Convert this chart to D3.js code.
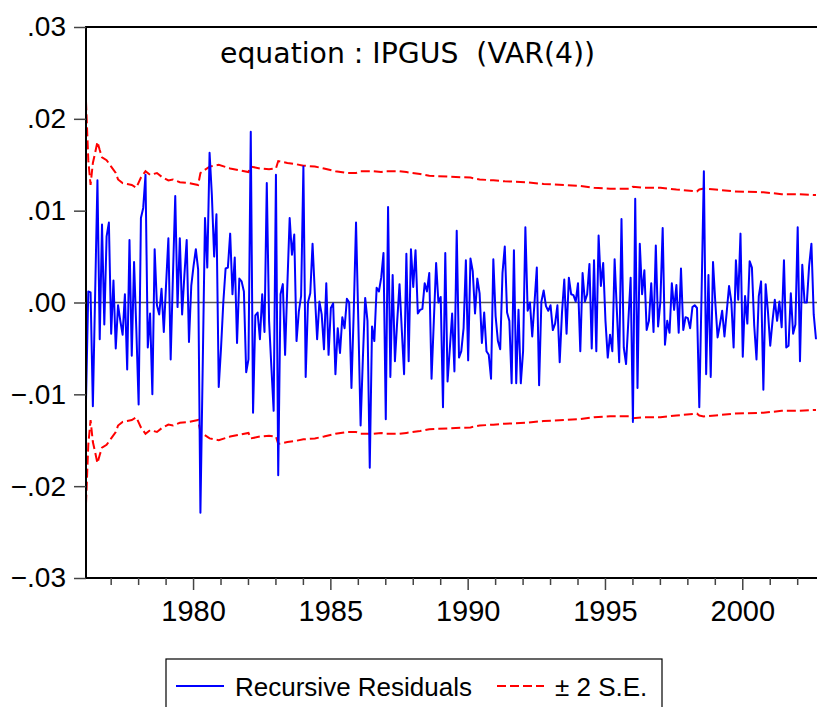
<!DOCTYPE html>
<html>
<head>
<meta charset="utf-8">
<script src="https://cdnjs.cloudflare.com/ajax/libs/d3/7.8.5/d3.min.js"></script>
<style>
    body { margin: 0; background: #fff; }
    svg { display: block; }
    .tick-label { font-family: "Liberation Sans", Arial, sans-serif; fill: #000; }
</style>
</head>
<body>
<svg id="chart" width="817" height="707"></svg>
<script>
//first observation of the sample
var startYear = 1976;
var startMonth = 2;

//recursive residuals, one row per calendar year (1976 starts in February)
var residuals = [
    -.0107, .0012, .0011, -.0113, .0010, .0133, -.0040, .0085, -.0024, .0072, .0087,
    -.0034, .0024, -.0050, -.0003, -.0020, -.0035, .0009, -.0073, .0068, -.0058, .0044, -.0030,
    -.0111, .0092, .0103, .0139, -.0049, -.0012, -.0100, .0058, -.0003, -.0013, .0015, -.0032,
    .0020, .0070, -.0062, .0030, .0116, -.0005, .0070, -.0013, .0030, .0068, -.0043, .0018,
    .0040, .0058, .0036, -.0229, -.0070, .0092, .0038, .0163, .0117, .0050, .0096, -.0092,
    -.0050, .0000, .0037, .0038, .0075, .0009, .0049, -.0044, .0026, .0023, .0012, -.0076,
    -.0062, .0186, -.0120, -.0014, -.0011, -.0040, .0009, -.0032, .0130, -.0020, -.0070, -.0118,
    .0139, -.0188, .0009, .0020, -.0057, .0020, .0092, .0052, .0074, -.0042, -.0010, .0007,
    .0148, -.0081, .0000, .0010, .0064, .0010, -.0040, .0001, -.0013, -.0051, .0021, -.0057,
    -.0006, -.0001, -.0078, -.0028, -.0055, -.0016, -.0028, .0004, .0000, -.0093, -.0010, .0087,
    -.0020, -.0134, -.0060, .0005, -.0020, -.0180, -.0026, -.0042, .0016, .0012, .0027, .0054,
    -.0127, .0104, -.0081, .0030, -.0064, -.0020, .0020, -.0030, -.0078, .0053, -.0064, .0058,
    .0017, .0057, -.0012, -.0008, -.0007, .0021, .0012, .0032, -.0083, -.0020, .0043, .0000,
    .0006, -.0114, .0054, -.0086, -.0050, -.0012, -.0075, .0078, -.0060, -.0053, -.0028, .0046,
    -.0063, .0048, .0034, -.0012, .0026, .0010, -.0044, -.0011, -.0053, -.0057, -.0083, .0047,
    -.0015, -.0042, -.0051, .0032, .0061, -.0011, -.0020, -.0088, .0057, -.0088, -.0008, -.0088,
    -.0053, .0082, -.0009, .0000, -.0037, .0000, .0038, -.0090, .0001, .0013, -.0004, -.0009,
    -.0003, -.0030, -.0023, -.0003, -.0065, -.0011, .0025, -.0034, .0027, .0009, .0008, .0001,
    .0021, -.0053, .0032, .0001, .0009, .0042, -.0050, .0046, -.0053, .0073, .0018, .0043,
    -.0020, -.0060, -.0035, -.0053, .0047, -.0010, -.0065, .0091, -.0049, -.0067, -.0020, .0027,
    -.0130, .0113, -.0093, .0064, .0009, .0035, -.0030, -.0020, .0021, -.0032, .0062, -.0026,
    .0001, .0081, -.0046, -.0020, -.0033, .0021, -.0008, .0019, -.0033, .0037, -.0030, -.0016,
    -.0017, -.0028, -.0005, -.0003, -.0006, -.0114, .0010, .0143, -.0078, .0030, -.0081, .0044,
    .0000, -.0038, -.0024, -.0009, -.0037, -.0010, .0018, .0001, -.0049, .0046, .0003, .0075,
    -.0059, .0007, -.0023, .0045, .0038, -.0025, -.0062, .0007, .0023, -.0095, .0020, -.0010,
    -.0047, -.0020, .0003, -.0020, .0001, -.0027, .0046, -.0049, -.0047, .0010, -.0034, -.0024,
    .0082, -.0064, .0041, .0000, .0000, .0040, .0064, -.0013, -.0040
];

//2 x standard error band (drawn as +/-), read at the months where it bends
var bandMonths = [
    "1976-02", "1976-03", "1976-04", "1976-05", "1976-06", "1976-07", "1976-08", "1976-09",
    "1976-11", "1977-01", "1977-03", "1977-04", "1977-06", "1977-08", "1977-10", "1977-12",
    "1978-02", "1978-04", "1978-06", "1978-09", "1978-11", "1979-02", "1979-04", "1979-07",
    "1979-11", "1980-03", "1980-04", "1980-08", "1980-12", "1981-05", "1981-09", "1982-01",
    "1982-02", "1982-06", "1982-10", "1983-01", "1983-02", "1983-06", "1983-09", "1984-01",
    "1984-06", "1984-10", "1985-03", "1985-08", "1985-12", "1986-02", "1986-07", "1986-11",
    "1987-01", "1987-07", "1987-10", "1988-04", "1988-08", "1989-05", "1990-02", "1990-06",
    "1990-12", "1991-05", "1992-02", "1992-10", "1993-07", "1994-02", "1994-08", "1995-03",
    "1995-12", "1996-01", "1996-05", "1997-01", "1997-08", "1998-05", "1998-06", "1998-08",
    "1999-01", "1999-09", "2000-10", "2001-06", "2002-01", "2002-09"
];
var bandValues = [
    .0219, .0155, .0128, .0152, .0163, .0175, .0166, .0158,
    .0155, .0148, .0141, .0134, .0130, .0129, .0128, .0125,
    .0136, .0143, .0139, .0141, .0137, .0133, .0134, .0131,
    .0130, .0128, .0141, .0148, .0150, .0146, .0144, .0142,
    .0148, .0146, .0145, .0146, .0154, .0152, .0151, .0149,
    .0148, .0146, .0143, .0141, .0141, .0143, .0143, .0142,
    .0143, .0143, .0142, .0140, .0138, .0137, .0136, .0134,
    .0133, .0132, .0131, .0129, .0128, .0127, .0125, .0124,
    .0124, .0126, .0125, .0125, .0123, .0121, .0123, .0124,
    .0123, .0121, .0120, .0118, .0118, .0117
];

var yTicks = [-.03, -.02, -.01, 0, .01, .02, .03];
var yearTicks = d3.range(1977, 2003);
var labelYears = [1980, 1985, 1990, 1995, 2000];

var title = "equation : IPGUS\u00a0\u00a0(VAR(4))";
var legendItems = [
    { label: "Recursive Residuals", color: "#0000ff", dash: null },
    { label: "\u00b1 2 S.E.", color: "#ff0000", dash: "9,4" }
];

//month index -> fractional year, the way EViews spaces observations
function monthToYear(y, m) { return y + (m - 1) / 12; }
var series = residuals.map(function(v, i) {
    var m = startMonth - 1 + i;
    return { t: monthToYear(startYear + Math.floor(m / 12), m % 12 + 1), v: v };
});
var band = bandMonths.map(function(s, i) {
    var p = s.split("-");
    return { t: monthToYear(+p[0], +p[1]), v: bandValues[i] };
});

var plot = { left: 86, top: 27, right: 818, bottom: 578 };
var svg = d3.select("#chart");

var x = d3.scaleLinear()
    .domain([series[0].t, series[series.length - 1].t])
    .range([plot.left, 816]);
var y = d3.scaleLinear()
    .domain([-.03, .03])
    .range([plot.bottom, plot.top]);

svg.append("rect").attr("width", 817).attr("height", 707).attr("fill", "#fff");

//zero line
svg.append("line")
    .attr("x1", plot.left).attr("x2", plot.right)
    .attr("y1", y(0)).attr("y2", y(0))
    .attr("stroke", "#555").attr("stroke-width", 1.3);

var line = d3.line().x(d => x(d.t)).y(d => y(d.v));

//+/- 2 S.E. bands
[1, -1].forEach(function(sign) {
    svg.append("path")
        .datum(band)
        .attr("fill", "none")
        .attr("stroke", "#ff0000")
        .attr("stroke-width", 2)
        .attr("stroke-dasharray", "9,4")
        .attr("d", d3.line().x(d => x(d.t)).y(d => y(sign * d.v)));
});

svg.append("path")
    .datum(series)
    .attr("fill", "none")
    .attr("stroke", "#0000ff")
    .attr("stroke-width", 2)
    .attr("stroke-linejoin", "round")
    .attr("d", line);

//frame (the right side is outside the picture)
svg.append("path")
    .attr("d", "M" + plot.right + "," + plot.top + "H" + plot.left + "V" + plot.bottom + "H" + plot.right)
    .attr("fill", "none")
    .attr("stroke", "#000")
    .attr("stroke-width", 2);

//left axis
var yAxis = d3.axisLeft(y)
    .tickValues(yTicks)
    .tickSize(12)
    .tickPadding(8)
    .tickFormat(d => d3.format(".2f")(d).replace("0.", "."));
var gy = svg.append("g")
    .attr("transform", "translate(" + plot.left + ",0)")
    .call(yAxis);
gy.select(".domain").remove();
gy.selectAll(".tick line").attr("stroke", "#444").attr("stroke-width", 1.5);
gy.selectAll(".tick text")
    .attr("class", "tick-label")
    .style("font-size", "28px");

//bottom axis: yearly ticks, longer ones every 5 years
var gx = svg.append("g")
    .attr("transform", "translate(0," + plot.bottom + ")");
gx.selectAll("line")
    .data(yearTicks)
    .enter().append("line")
    .attr("x1", d => x(d)).attr("x2", d => x(d))
    .attr("y1", 0)
    .attr("y2", d => labelYears.indexOf(d) >= 0 ? 12 : 7)
    .attr("stroke", "#444").attr("stroke-width", 1.5);
gx.selectAll("text")
    .data(labelYears)
    .enter().append("text")
    .attr("class", "tick-label")
    .attr("x", d => x(d))
    .attr("y", 43)
    .attr("text-anchor", "middle")
    .style("font-size", "29px")
    .text(d => d);

svg.append("text")
    .attr("x", 220)
    .attr("y", 63)
    .style("font-family", "'DejaVu Sans', Verdana, sans-serif")
    .style("font-size", "28.3px")
    .attr("fill", "#000")
    .text(title);

//legend
var legend = svg.append("g");
legend.append("rect")
    .attr("x", 166).attr("y", 659)
    .attr("width", 496).attr("height", 70)
    .attr("fill", "#fff").attr("stroke", "#000").attr("stroke-width", 1.2);
var legendX = [176, 497];
var items = legend.selectAll(".item")
    .data(legendItems)
    .enter().append("g")
    .attr("transform", (d, i) => "translate(" + legendX[i] + ",686)");
items.append("line")
    .attr("x1", 0).attr("x2", d => d.dash ? 47 : 48)
    .attr("stroke", d => d.color)
    .attr("stroke-width", 2)
    .attr("stroke-dasharray", d => d.dash);
items.append("text")
    .attr("class", "tick-label")
    .attr("x", (d, i) => i === 0 ? 59 : 58)
    .attr("y", 10)
    .style("font-size", "26px")
    .text(d => d.label);
</script>
</body>
</html>
